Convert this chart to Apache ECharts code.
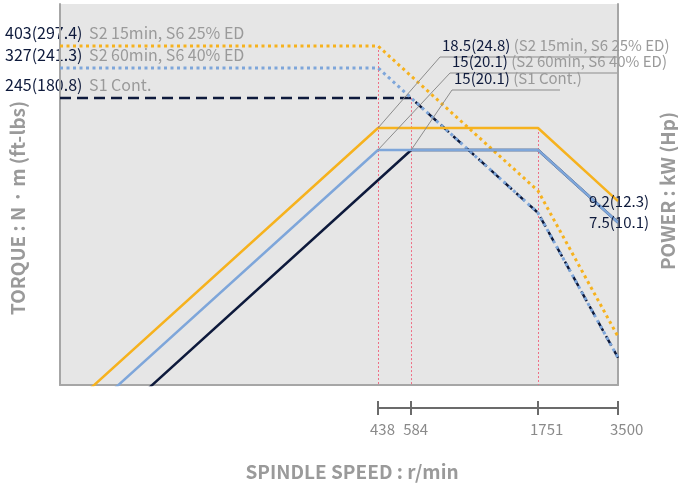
<!DOCTYPE html>
<html>
<head>
<meta charset="utf-8">
<script src="https://cdn.jsdelivr.net/npm/echarts@6/dist/echarts.min.js"></script>
<style>
  html, body { margin: 0; padding: 0; background: #fff; }
  #main { width: 678px; height: 488px; }
</style>
</head>
<body>
<div id="main"></div>
<script>
// spindle speed (r/min) ticks on the lower axis
const speedTicks = [438, 584, 1751, 3500];

// power curves [speed, kW]
const powerS2_15 = [[30, 1.27], [438, 18.5], [1751, 18.5], [3500, 9.2]];
const powerS2_60 = [[30, 1.03], [438, 15], [1751, 15], [3500, 7.5]];
const powerS1 = [[50, 1.28], [584, 15], [1751, 15], [3500, 7.5]];

// torque curves [speed, N·m]
const torqueS2_15 = [[27.9, 403], [438, 403], [1751, 101], [3500, 25.1]];
const torqueS2_60 = [[27.9, 327], [438, 327], [1751, 81.8], [3500, 20.5]];
const torqueS1 = [[27.9, 245], [584, 245], [1751, 81.8], [3500, 20.5]];

// texts
const torqueTexts = ['403(297.4)', '327(241.3)', '245(180.8)'];
const powerTexts = ['18.5(24.8)', '15(20.1)', '15(20.1)'];
const dutyNames = ['S2 15min, S6 25% ED', 'S2 60min, S6 40% ED', 'S1 Cont.'];
const endTexts = ['9.2(12.3)', '7.5(10.1)'];

const ORANGE = '#f6b21e';
const BLUE = '#7ea6da';
const NAVY = '#0e1a3c';
const PINK = '#ef6f86';
const GRAY_TXT = '#9a9a9a';
const FONT = '"Noto Sans CJK KR", "Noto Sans", sans-serif';

const SPEED_MIN = 27.9, SPEED_MAX = 3500;
const TORQUE_MIN = 15.8, TORQUE_MAX = 602;
const POWER_MIN = 1.588, POWER_MAX = 60.5;

function vline(pt, bottom) {
  return [{ coord: pt }, { coord: [pt[0], bottom] }];
}

const pinkLine = {
  silent: true, symbol: 'none', label: { show: false },
  lineStyle: { color: PINK, type: [2, 2], width: 1, opacity: 1 },
  z: 1
};

let chart = echarts.init(document.getElementById('main'));

let option = {
  animation: false,
  textStyle: { fontFamily: FONT },
  grid: [
    { left: 60, right: 60, top: 4, bottom: 103, show: true, backgroundColor: '#e6e6e6', borderWidth: 0 },
    { left: 378, right: 60, top: 400, height: 8 }
  ],
  xAxis: [
    {
      type: 'log', logBase: 10, gridIndex: 0, min: SPEED_MIN, max: SPEED_MAX,
      axisLine: { show: true, lineStyle: { color: '#a6a6a6', width: 2 } },
      axisTick: { show: false }, axisLabel: { show: false }, splitLine: { show: false }, minorTick: { show: false }
    },
    {
      type: 'log', logBase: 10, gridIndex: 1, min: 438, max: 3500, position: 'bottom',
      axisLine: { show: true, lineStyle: { color: '#6b6b6b', width: 2 } },
      axisTick: { show: true, customValues: speedTicks, length: 7, lineStyle: { color: '#6b6b6b', width: 2 } },
      axisLabel: {
        show: true, customValues: speedTicks, color: '#8a8a8a', fontSize: 15, margin: 14,
        align: 'left', padding: [0, 0, 0, -8],
        formatter: v => String(Math.round(v))
      },
      splitLine: { show: false }
    },
    {
      type: 'log', logBase: 10, gridIndex: 1, min: 438, max: 3500, position: 'bottom',
      axisLine: { show: false },
      axisTick: { show: true, inside: true, customValues: speedTicks, length: 7, lineStyle: { color: '#6b6b6b', width: 2 } },
      axisLabel: { show: false }, splitLine: { show: false }
    }
  ],
  yAxis: [
    {
      type: 'log', logBase: 10, gridIndex: 0, min: TORQUE_MIN, max: TORQUE_MAX, position: 'left',
      axisLine: { show: true, lineStyle: { color: '#a6a6a6', width: 2 } },
      axisTick: { show: false }, axisLabel: { show: false }, splitLine: { show: false }
    },
    {
      type: 'log', logBase: 10, gridIndex: 0, min: POWER_MIN, max: POWER_MAX, position: 'right',
      axisLine: { show: true, lineStyle: { color: '#a6a6a6', width: 2 } },
      axisTick: { show: false }, axisLabel: { show: false }, splitLine: { show: false }
    },
    { type: 'value', gridIndex: 1, show: false }
  ],
  series: [
    {
      name: 'torque S1', type: 'line', xAxisIndex: 0, yAxisIndex: 0, data: torqueS1,
      showSymbol: false, symbol: 'none',
      lineStyle: { color: NAVY, width: 2.5, type: [11, 6] },
      markLine: Object.assign({ data: [vline(torqueS1[1], TORQUE_MIN)] }, pinkLine)
    },
    {
      name: 'torque S2 60', type: 'line', xAxisIndex: 0, yAxisIndex: 0, data: torqueS2_60,
      showSymbol: false, symbol: 'none',
      lineStyle: { color: BLUE, width: 3, type: [3, 3.5] }
    },
    {
      name: 'torque S2 15', type: 'line', xAxisIndex: 0, yAxisIndex: 0, data: torqueS2_15,
      showSymbol: false, symbol: 'none',
      lineStyle: { color: ORANGE, width: 3, type: [3, 3.5] },
      markLine: Object.assign({ data: [vline(torqueS2_15[1], TORQUE_MIN)] }, pinkLine)
    },
    {
      name: 'power S1', type: 'line', xAxisIndex: 0, yAxisIndex: 1, data: powerS1,
      showSymbol: false, symbol: 'none',
      lineStyle: { color: NAVY, width: 2.5 }
    },
    {
      name: 'power S2 60', type: 'line', xAxisIndex: 0, yAxisIndex: 1, data: powerS2_60,
      showSymbol: false, symbol: 'none',
      lineStyle: { color: BLUE, width: 2.5 }
    },
    {
      name: 'power S2 15', type: 'line', xAxisIndex: 0, yAxisIndex: 1, data: powerS2_15,
      showSymbol: false, symbol: 'none',
      lineStyle: { color: ORANGE, width: 2.5 },
      markLine: Object.assign({ data: [vline(powerS2_15[2], POWER_MIN)] }, pinkLine)
    }
  ]
};

chart.setOption(option);

// annotations placed from the converted data positions
let graphic = [];
const torqueLevels = [torqueS2_15[0][1], torqueS2_60[0][1], torqueS1[0][1]];
torqueLevels.forEach((t, i) => {
  let y = chart.convertToPixel({ yAxisIndex: 0 }, t);
  graphic.push({
    type: 'text', left: 5, top: y - 21,
    style: {
      text: '{v|' + torqueTexts[i] + '}  {d|' + dutyNames[i] + '}',
      rich: {
        v: { fill: NAVY, fontSize: 16, fontFamily: FONT },
        d: { fill: GRAY_TXT, fontSize: 16, fontFamily: FONT }
      }
    }
  });
});

// leader lines from the power corners to the labels
const corners = [powerS2_15[1], powerS2_60[1], powerS1[1]];
const leaderLayout = [
  { ex: 440, ey: 57, end: 617 },
  { ex: 450, ey: 73, end: 617 },
  { ex: 452, ey: 90, end: 560 }
];
corners.forEach((c, i) => {
  let p = chart.convertToPixel({ xAxisIndex: 0, yAxisIndex: 1 }, c);
  let l = leaderLayout[i];
  graphic.push({
    type: 'polyline', silent: true, z: 50,
    shape: { points: [p, [l.ex, l.ey], [l.end, l.ey]] },
    style: { stroke: '#8c8c8c', lineWidth: 1, fill: null }
  });
  graphic.push({
    type: 'text', left: l.ex + 2, top: l.ey - 19, z: 51,
    style: {
      text: '{v|' + powerTexts[i] + '} {d|(' + dutyNames[i] + ')}',
      rich: {
        v: { fill: NAVY, fontSize: 15, fontFamily: FONT },
        d: { fill: GRAY_TXT, fontSize: 15, fontFamily: FONT }
      }
    }
  });
});

// end-of-curve power labels, centred on the last points
[powerS2_15, powerS2_60].forEach((s, i) => {
  let p = chart.convertToPixel({ xAxisIndex: 0, yAxisIndex: 1 }, s[s.length - 1]);
  graphic.push({
    type: 'text', x: p[0] + 1, y: p[1], z: 60,
    style: { text: endTexts[i], fill: NAVY, fontSize: 15, fontFamily: FONT, align: 'center', verticalAlign: 'middle' }
  });
});

// axis titles
graphic.push({
  type: 'text', x: 352, y: 472,
  style: { text: 'SPINDLE SPEED : r/min', fill: GRAY_TXT, fontSize: 19, fontWeight: 'bold', fontFamily: FONT, align: 'center', verticalAlign: 'middle' }
});
graphic.push({
  type: 'text', x: 18, y: 208, rotation: Math.PI / 2,
  style: { text: 'TORQUE : N · m (ft-lbs)', fill: GRAY_TXT, fontSize: 19, fontWeight: 'bold', fontFamily: FONT, align: 'center', verticalAlign: 'middle' }
});
graphic.push({
  type: 'text', x: 668, y: 191, rotation: Math.PI / 2,
  style: { text: 'POWER : kW (Hp)', fill: GRAY_TXT, fontSize: 19, fontWeight: 'bold', fontFamily: FONT, align: 'center', verticalAlign: 'middle' }
});

chart.setOption({ graphic: graphic });
</script>
</body>
</html>
